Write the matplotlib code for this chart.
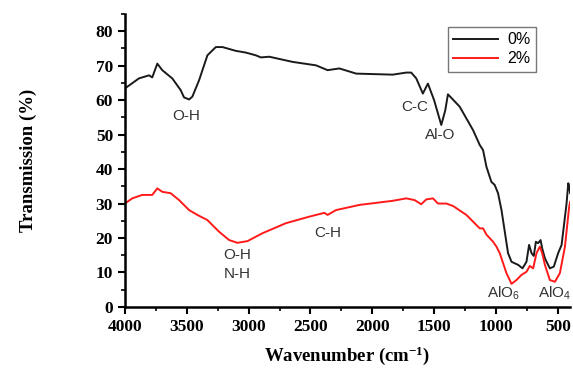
import matplotlib.pyplot as plt
from matplotlib.ticker import MultipleLocator

plt.rcParams['mathtext.default'] = 'regular'

# 0% sample (black)
wn_0 = [4000, 3887, 3805, 3779, 3738, 3698, 3617, 3549, 3522, 3481, 3455, 3400,
        3333, 3265, 3211, 3103, 3022, 2941, 2900, 2833, 2644, 2455, 2361, 2266,
        2130, 1834, 1725, 1685, 1644, 1591, 1563, 1550, 1500, 1442, 1410, 1388,
        1293, 1185, 1131, 1104, 1077, 1037, 1010, 983, 955, 902, 874, 820, 785,
        753, 732, 712, 694, 677, 659, 639, 626, 604, 564, 532, 497, 469, 429,
        415, 408, 400]
tr_0 = [63.4, 66.3, 67.2, 66.6, 70.6, 68.7, 66.3, 62.9, 60.8, 60.2, 61.0, 65.8,
        73.0, 75.4, 75.4, 74.3, 73.8, 73.0, 72.4, 72.6, 71.1, 70.1, 68.7, 69.2,
        67.7, 67.4, 68.0, 68.0, 66.3, 61.9, 63.9, 64.8, 60.0, 52.8, 57.0, 61.7,
        58.1, 51.3, 47.0, 45.5, 40.7, 36.3, 35.4, 33.0, 28.1, 15.6, 13.1, 12.2,
        11.2, 13.1, 18.0, 15.6, 14.8, 18.9, 18.5, 19.4, 17.0, 14.1, 11.2, 11.7,
        15.6, 18.0, 30.0, 35.9, 35.0, 33.0]

# 2% sample (red)
wn_2 = [4000, 3941, 3860, 3779, 3738, 3698, 3630, 3562, 3481, 3414, 3333, 3238,
        3157, 3090, 3009, 2887, 2698, 2509, 2387, 2361, 2293, 2104, 1834, 1725,
        1658, 1604, 1563, 1509, 1469, 1401, 1347, 1239, 1131, 1104, 1077, 1023,
        996, 969, 915, 874, 834, 793, 753, 726, 699, 672, 645, 626, 604, 564,
        523, 483, 442, 408, 400]
tr_2 = [30.0, 31.5, 32.5, 32.5, 34.4, 33.4, 33.0, 31.0, 28.1, 26.7, 25.2, 21.8,
        19.4, 18.6, 19.1, 21.4, 24.3, 26.2, 27.3, 26.7, 28.1, 29.6, 30.8, 31.5,
        31.0, 29.8, 31.2, 31.5, 30.0, 30.0, 29.3, 26.7, 22.8, 22.8, 21.0, 18.9,
        17.5, 15.6, 9.8, 6.7, 7.8, 9.3, 10.2, 11.9, 11.2, 15.6, 17.5, 15.6,
        12.2, 7.8, 7.3, 9.8, 17.5, 29.0, 30.5]

fig = plt.figure(figsize=(5.73, 3.78), dpi=100)
ax = fig.add_axes([0.218, 0.188, 0.777, 0.775])

ax.plot(wn_0, tr_0, color='#1a1a1a', linewidth=1.4, label='0%')
ax.plot(wn_2, tr_2, color='#ff1a1a', linewidth=1.4, label='2%')

ax.set_xlim(4000, 400)
ax.set_ylim(0, 85)
ax.xaxis.set_major_locator(MultipleLocator(500))
ax.xaxis.set_minor_locator(MultipleLocator(250))
ax.yaxis.set_major_locator(MultipleLocator(10))
ax.yaxis.set_minor_locator(MultipleLocator(5))

for s in ['top', 'right']:
    ax.spines[s].set_visible(False)
for s in ['left', 'bottom']:
    ax.spines[s].set_linewidth(1.8)
ax.tick_params(which='major', direction='out', length=5, width=1.5)
ax.tick_params(which='minor', direction='out', length=3, width=1.2)

for lab in ax.get_xticklabels() + ax.get_yticklabels():
    lab.set_fontfamily('Liberation Serif')
    lab.set_fontweight('bold')
    lab.set_fontsize(12.5)

ax.set_xlabel('Wavenumber (cm$^{-1}$)', family='Liberation Serif',
              fontweight='bold', fontsize=13.5, labelpad=7)
ax.set_ylabel('Transmission (%)', family='Liberation Serif',
              fontweight='bold', fontsize=13.5, labelpad=42)

# peak labels
tkw = dict(family='Liberation Sans', fontsize=11, color='#333333',
           ha='center', va='center')
ax.text(3508, 55.4, 'O-H', **tkw)
ax.text(1658, 58.1, 'C-C', **tkw)
ax.text(1455, 49.9, 'Al-O', **tkw)
ax.text(3090, 12.2, 'O-H\nN-H', linespacing=1.45, **tkw)
ax.text(2361, 21.4, 'C-H', **tkw)
ax.text(940, 4.0, 'AlO$_6$', **tkw)
ax.text(530, 4.0, 'AlO$_4$', **tkw)

leg = ax.legend(loc='upper right', bbox_to_anchor=(0.924, 0.956),
                borderaxespad=0, fancybox=False, edgecolor='#555555',
                prop={'family': 'Liberation Sans', 'size': 11.5},
                handlelength=2.8, handletextpad=0.6, borderpad=0.35,
                labelspacing=0.25)
leg.get_frame().set_linewidth(1.0)

fig.savefig('out.png', dpi=100)
